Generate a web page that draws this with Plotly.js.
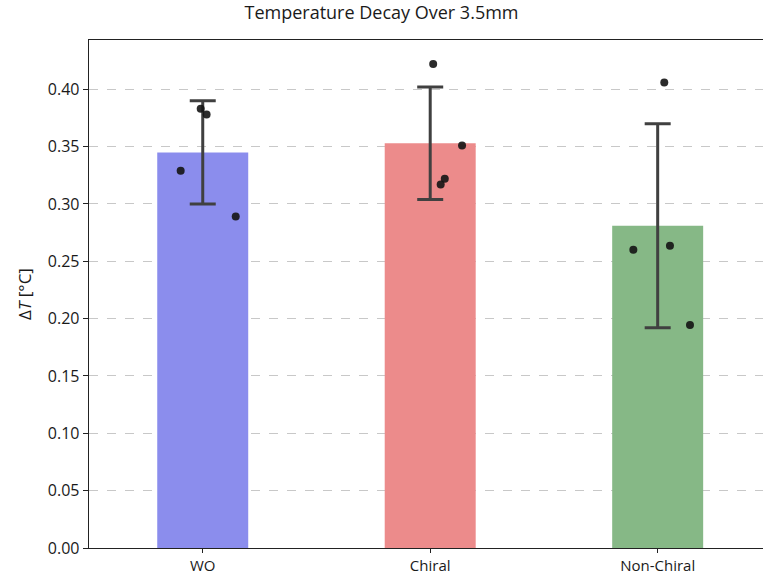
<!DOCTYPE html>
<html>
<head>
<meta charset="utf-8">
<script src="https://cdn.plot.ly/plotly-3.0.1.min.js"></script>
<style>html,body{margin:0;padding:0;background:#fff;}#chart{width:763px;height:574px;}</style>
</head>
<body>
<div id="chart"></div>
<script>
const categories = ["WO", "Chiral", "Non-Chiral"];
const meanValues = [0.345, 0.353, 0.281];
const errorValues = [0.045, 0.049, 0.089];
const barColors = ["#8b8ded", "#ec8b8b", "#86b886"];

// individual samples (jitter offset from category centre, value)
const woJitter = [-0.097, 0.145, -0.009, 0.017];
const woPoints = [0.329, 0.289, 0.383, 0.378];
const chiralJitter = [0.013, 0.140, 0.064, 0.046];
const chiralPoints = [0.422, 0.351, 0.322, 0.317];
const nonChiralJitter = [0.029, -0.107, 0.054, 0.142];
const nonChiralPoints = [0.406, 0.260, 0.2636, 0.1945];

const catIdx = categories.map((c, i) => i);
const jitters = [woJitter, chiralJitter, nonChiralJitter];
const points = [woPoints, chiralPoints, nonChiralPoints];

const traces = [{
  type: "bar",
  x: catIdx,
  y: meanValues,
  width: 0.4,
  marker: {color: barColors, line: {width: 0}},
  error_y: {type: "data", array: errorValues, visible: true, color: "#404040", thickness: 3, width: 13},
  hoverinfo: "skip"
}];
points.forEach((vals, i) => {
  traces.push({
    type: "scatter",
    mode: "markers",
    x: jitters[i].map(j => i + j),
    y: vals,
    marker: {color: "rgba(20,20,20,0.9)", size: 8},
    hoverinfo: "skip"
  });
});

const font = "Open Sans, Roboto, sans-serif";
const layout = {
  width: 763, height: 574,
  margin: {l: 89, r: 0, t: 40, b: 26},
  showlegend: false,
  plot_bgcolor: "#fff", paper_bgcolor: "#fff",
  font: {family: font, color: "#1a1a1a", size: 16},
  title: {text: "Temperature Decay Over 3.5mm", font: {size: 18, family: font, color: "#1a1a1a"}, x: 0.5, xanchor: "center", y: 0.988, yanchor: "top"},
  xaxis: {
    range: [-0.5, 2.463],
    tickvals: catIdx, ticktext: categories,
    showline: true, linecolor: "#222", linewidth: 1.3, mirror: true,
    ticks: "outside", ticklen: 4, tickcolor: "#222",
    showgrid: false, zeroline: false,
    tickfont: {size: 15}
  },
  yaxis: {
    range: [0, 0.443],
    tickvals: [0, 0.05, 0.1, 0.15, 0.2, 0.25, 0.3, 0.35, 0.4],
    tickformat: ".2f",
    showline: true, linecolor: "#222", linewidth: 1.3,
    ticks: "outside", ticklen: 5, tickcolor: "#222",
    showgrid: true, gridcolor: "#c8c8c8", griddash: "dash", gridwidth: 1,
    zeroline: false,
    tickfont: {size: 16},
    title: {text: "Δ<i>T</i> [°C]", font: {size: 17}, standoff: 12}
  }
};
Plotly.newPlot("chart", traces, layout, {displayModeBar: false, staticPlot: true});
</script>
</body>
</html>
